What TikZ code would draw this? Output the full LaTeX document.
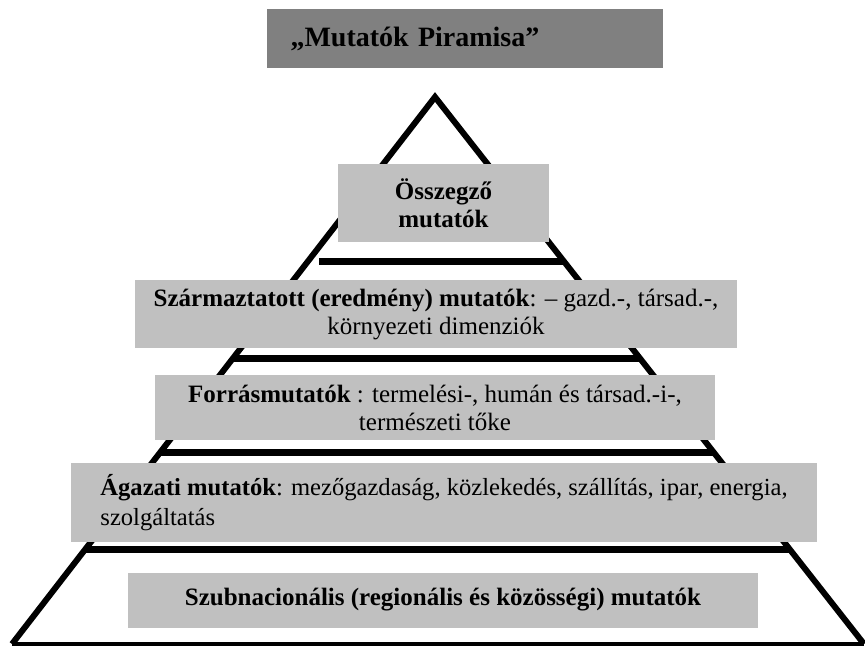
\documentclass[tikz,border=0pt]{standalone}
\usepackage{fontspec}
\setmainfont{Liberation Serif}
\definecolor{titlegray}{HTML}{808080}
\definecolor{boxgray}{HTML}{C0C0C0}
\begin{document}
\begin{tikzpicture}[x=1pt,y=-1pt,
  side/.style={line width=6pt, line join=miter},
  rung/.style={line width=7pt},
  band/.style={fill=boxgray, inner sep=0pt, align=center,
    font=\fontsize{25}{28}\selectfont},
  titlebox/.style={fill=titlegray, inner sep=0pt, align=left,
    font=\bfseries\fontsize{28}{32}\selectfont}]
\useasboundingbox (0,0) rectangle (865,646);

% title
\node[titlebox, minimum width=396pt, minimum height=59pt, text width=373pt,
      inner xsep=0pt] (title) at (465,38.5) {\hspace*{12pt}„Mutatók Piramisa”};

% pyramid outline
\coordinate (apex) at (435,97);
\coordinate (bl) at (12,644);
\coordinate (br) at (864,644);
\draw[side] (bl) -- (apex) -- (br);
\draw[line width=4pt] (bl) -- (br);

% level separators
\draw[rung] (319,261) -- (564,261);
\draw[rung] (233,358) -- (640,358);
\draw[rung] (161,452) -- (713,452);
\draw[rung] (86,549) -- (789,549);

% level labels
\node[band, minimum width=211pt, minimum height=78pt] (lvl1) at (443.5,203)
  {\textbf{Összegző}\\\textbf{mutatók}};
\node[band, minimum width=602pt, minimum height=68pt] (lvl2) at (436,314)
  {\textbf{Származtatott (eredmény) mutatók}: -- gazd.-, társad.-,\\környezeti dimenziók};
\node[band, minimum width=560pt, minimum height=65pt] (lvl3) at (435,407.5)
  {\textbf{Forrásmutatók} : termelési-, humán és társad.-i-,\\természeti tőke};
\node[band, minimum width=746pt, minimum height=79pt,
      align=left, font=\fontsize{24.6}{30}\selectfont] (lvl4) at (444,502.5)
  {\textbf{Ágazati mutatók}: mezőgazdaság, közlekedés, szállítás, ipar, energia,\\szolgáltatás};
\node[band, minimum width=630pt, minimum height=55pt] (lvl5) at (443,600)
  {\textbf{Szubnacionális (regionális és közösségi) mutatók}};
\end{tikzpicture}
\end{document}
